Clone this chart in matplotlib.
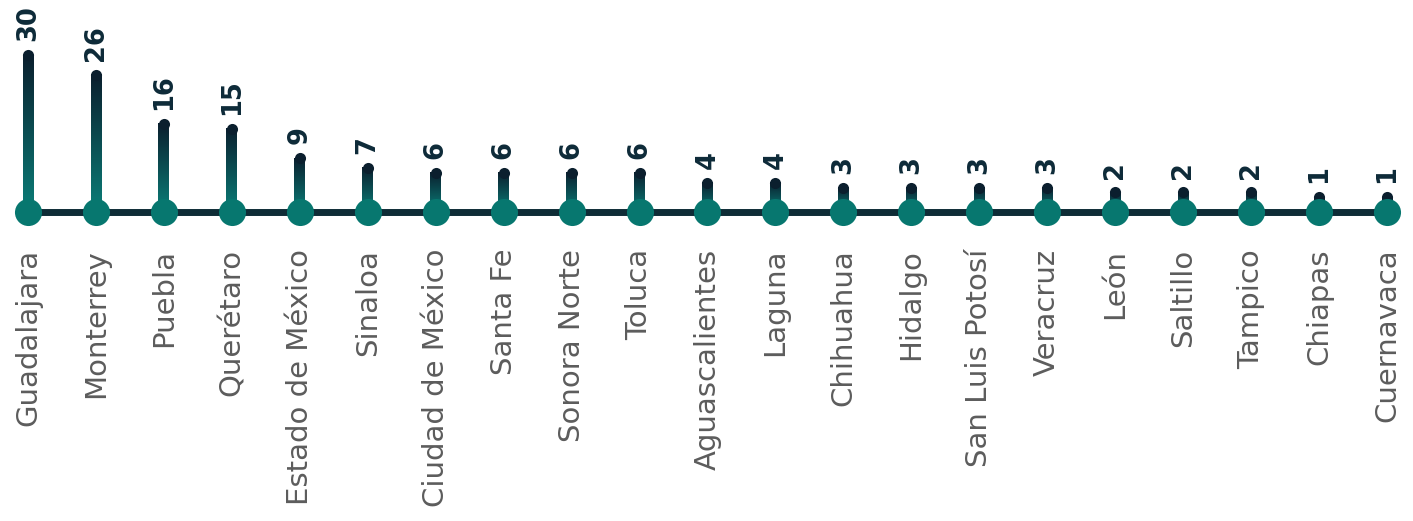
import numpy as np
import matplotlib
matplotlib.use('Agg')
import matplotlib.pyplot as plt
from matplotlib.colors import LinearSegmentedColormap

# ── Data ──────────────────────────────────────────────────────────────────
cities = ['Guadalajara', 'Monterrey', 'Puebla', 'Querétaro', 'Estado de México',
          'Sinaloa', 'Ciudad de México', 'Santa Fe', 'Sonora Norte', 'Toluca',
          'Aguascalientes', 'Laguna', 'Chihuahua', 'Hidalgo', 'San Luis Potosí',
          'Veracruz', 'León', 'Saltillo', 'Tampico', 'Chiapas', 'Cuernavaca']
counts = [30, 26, 16, 15, 9, 7, 6, 6, 6, 6, 4, 4, 3, 3, 3, 3, 2, 2, 2, 1, 1]

# ── Style ─────────────────────────────────────────────────────────────────
TOP_COLOR = '#0b1f2e'
BOT_COLOR = '#0a7e78'
LINE_COLOR = '#0e2c36'
DOT_COLOR = '#07776f'
LABEL_COLOR = '#5c5c5c'
BASE = -2.0          # baseline sits a little below zero so small stems show
STEM_W = 0.16        # stem width in x data units
STEM_LW_PT = 8.0     # matching width in points (for the round cap)

cmap = LinearSegmentedColormap.from_list('stem', [BOT_COLOR, TOP_COLOR])
grad = np.linspace(0, 1, 256).reshape(-1, 1)

fig = plt.figure(figsize=(14.13, 5.21), dpi=100)
ax = fig.add_axes([0, 0, 1, 1])
XLIM = (-0.412, len(cities) - 1 + 0.383)
YLIM = (-65.06, 41.27)
ax.axis('off')

x = np.arange(len(cities))

# baseline
ax.plot([x[0], x[-1]], [BASE, BASE], color=LINE_COLOR, lw=5, zorder=1,
        solid_capstyle='butt')

# gradient stems
for xi, v in zip(x, counts):
    ax.imshow(grad, cmap=cmap, origin='lower', aspect='auto',
              extent=[xi - STEM_W / 2, xi + STEM_W / 2, BASE, v],
              interpolation='bilinear', zorder=2)
    # rounded cap on top
    ax.scatter([xi], [v], s=STEM_LW_PT ** 2, color=TOP_COLOR, zorder=2,
               linewidths=0)
    ax.annotate(str(v), xy=(xi, v), xytext=(0, 10), textcoords='offset points',
                rotation=90, ha='center', va='bottom', fontsize=18.5,
                fontweight='heavy', color='#0d2a38')

# dots on the baseline
ax.scatter(x, [BASE] * len(x), s=380, color=DOT_COLOR, zorder=3, linewidths=0)

# city labels
for xi, name in zip(x, cities):
    ax.annotate(name, xy=(xi, BASE), xytext=(0, -26.5), textcoords='offset points',
                rotation=90, ha='center', va='top', fontsize=21,
                color=LABEL_COLOR)

ax.set_xlim(*XLIM)
ax.set_ylim(*YLIM)

fig.savefig('out.png', dpi=100)
